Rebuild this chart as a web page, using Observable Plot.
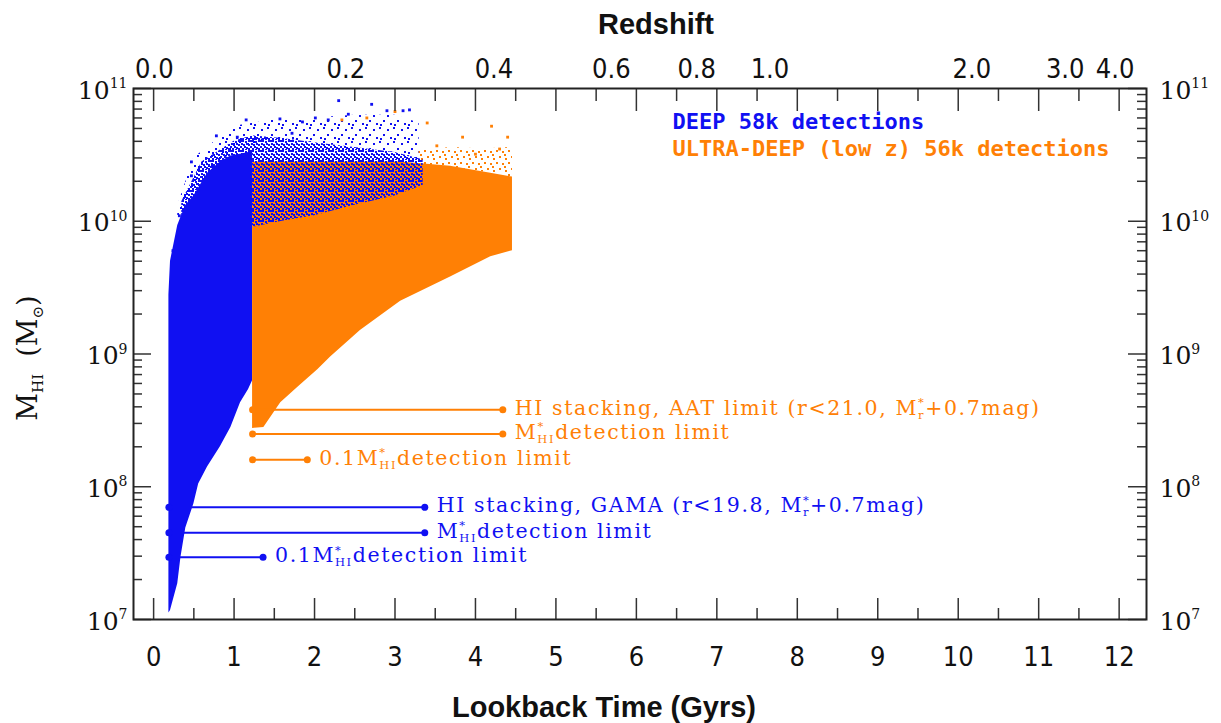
<!DOCTYPE html>
<html><head><meta charset="utf-8">
<script src="https://cdn.jsdelivr.net/npm/d3@7"></script>
<script src="https://cdn.jsdelivr.net/npm/@observablehq/plot@0.6"></script>
<style>body{margin:0;background:#fff;} #chart svg{display:block;}</style>
</head><body><div id="chart"></div>
<script>
// ---------------- data ----------------
// DEEP cloud (blue): envelope of the dense region, lookback time (Gyr) vs M_HI
const blueT    = [0.19, 0.21, 0.30, 0.34, 0.40, 0.50, 0.56, 0.67, 0.83, 0.96, 1.08, 1.18, 1.23];
const blueLow  = [1.12e7, 1.17e7, 1.86e7, 2.95e7, 4.9e7, 7.4e7, 1.05e8, 1.41e8, 2.0e8, 2.8e8, 4.3e8, 5.4e8, 6.3e8];
const blueHigh = [2.8e9, 5.0e9, 9.3e9, 1.07e10, 1.32e10, 1.55e10, 1.78e10, 2.3e10, 2.8e10, 3.1e10, 3.2e10, 3.3e10, 3.4e10];
// DEEP sparse band (blue points scattered over the orange cloud)
const blueMixT    = [0.35, 0.6, 1.0, 1.23, 1.6, 2.0, 2.5, 3.0, 3.35];
const blueMixLow  = [1.0e10, 1.6e10, 2.0e10, 9.0e9, 1.0e10, 1.1e10, 1.32e10, 1.55e10, 1.86e10];
const blueMixHigh = [1.4e10, 2.8e10, 4.0e10, 4.4e10, 4.2e10, 3.9e10, 3.6e10, 3.3e10, 2.9e10];
// DEEP very sparse outskirts
const blueHaloT    = [0.3, 0.5, 1.0, 1.5, 2.0, 2.5, 3.0, 3.3];
const blueHaloLow  = [1.0e10, 1.6e10, 3.5e10, 4.2e10, 3.9e10, 3.6e10, 3.3e10, 2.9e10];
const blueHaloHigh = [1.3e10, 3.0e10, 5.2e10, 5.8e10, 6.0e10, 6.3e10, 6.3e10, 5.5e10];
// ULTRA-DEEP cloud (orange)
const orangeT    = [1.23, 1.37, 1.58, 1.79, 2.04, 2.20, 2.57, 3.07, 3.69, 4.19, 4.46];
const orangeLow  = [2.75e8, 2.8e8, 4.3e8, 5.6e8, 7.6e8, 9.5e8, 1.5e9, 2.5e9, 3.8e9, 5.4e9, 6.0e9];
const orangeHigh = [2.8e10, 2.8e10, 2.8e10, 2.8e10, 2.8e10, 2.8e10, 2.8e10, 2.8e10, 2.6e10, 2.3e10, 2.15e10];
// ULTRA-DEEP sparse outskirts
const orangeHaloT    = [3.3, 3.7, 4.1, 4.46];
const orangeHaloLow  = [2.7e10, 2.55e10, 2.35e10, 2.15e10];
const orangeHaloHigh = [3.4e10, 3.6e10, 3.5e10, 3.6e10];
// isolated points
const blueOutT = [2.30, 2.71, 2.90, 3.10, 3.18, 1.15, 1.57, 2.01, 1.85, 2.17, 2.42, 0.78, 1.04, 1.35, 1.72, 0.47, 0.73, 0.47, 0.68, 0.32, 0.24];
const blueOutM = [8.1e10, 7.6e10, 6.8e10, 6.8e10, 6.9e10, 5.8e10, 5.9e10, 6.0e10, 5.6e10, 5.8e10, 6.4e10, 4.4e10, 4.3e10, 4.1e10, 4.6e10, 2.8e10, 2.6e10, 2.2e10, 2.2e10, 1.1e10, 6.0e9];
const orangeOutT = [2.34, 2.65, 3.00, 3.40, 4.20, 4.40, 3.52, 3.84, 4.0, 4.3];
const orangeOutM = [5.8e10, 6.0e10, 6.7e10, 5.5e10, 5.2e10, 4.3e10, 3.7e10, 4.3e10, 3.2e10, 3.5e10];
// detection-limit lines
const orangeLimM  = [3.8e8, 2.5e8, 1.6e8];
const orangeLimT0 = [1.23, 1.23, 1.23];
const orangeLimT1 = [4.34, 4.34, 1.91];
const orangeLimText = ["HI stacking, AAT limit (r<21.0, M^{*}_{r}+0.7mag)", "M^{*}_{HI}detection limit", "0.1M^{*}_{HI}detection limit"];
const blueLimM  = [7.0e7, 4.5e7, 2.95e7];
const blueLimT0 = [0.19, 0.19, 0.19];
const blueLimT1 = [3.37, 3.37, 1.36];
const blueLimText = ["HI stacking, GAMA (r<19.8, M^{*}_{r}+0.7mag)", "M^{*}_{HI}detection limit", "0.1M^{*}_{HI}detection limit"];
// axes
const xMajor = [0,1,2,3,4,5,6,7,8,9,10,11,12];
const xMinor = [0.5,1.5,2.5,3.5,4.5,5.5,6.5,7.5,8.5,9.5,10.5,11.5];
const yMajor = [1e7, 1e8, 1e9, 1e10, 1e11];
const yMinor = [1e7,1e8,1e9,1e10].flatMap(d => [2,3,4,5,6,7,8,9].map(k => k*d));
const zLabels = ["0.0","0.2","0.4","0.6","0.8","1.0","2.0","3.0","4.0"];
const zLookback = [0.01, 2.39, 4.23, 5.69, 6.75, 7.66, 10.17, 11.33, 11.95];
const legendText = ["DEEP 58k detections", "ULTRA-DEEP (low z) 56k detections"];

// ---------------- style ----------------
const BLUE = "#1010f2", ORANGE = "#ff8005", AX = "#333";
const SERIF = "'DejaVu Serif', serif";
const NARROW = "'Liberation Sans Narrow', 'Arial Narrow', 'DejaVu Sans Condensed', sans-serif";
const SANS = "'Liberation Sans', Arial, sans-serif";
const MONO = "'DejaVu Sans Mono', monospace";
const W = 1221, H = 723, ML = 133, MR = 75, MT = 88, MB = 104;
const PW = W - ML - MR, PH = H - MT - MB;

const zip = (t, lo, hi) => t.map((d, i) => ({t: d, lo: lo[i], hi: hi[i]}));
const pts = (t, m) => t.map((d, i) => ({t: d, m: m[i]}));
const lims = (m, t0, t1, txt) => m.map((d, i) => ({m: d, t0: t0[i], t1: t1[i], text: txt[i]}));

const pattern = (defs, id, color, size, cells) => {
  const p = defs.append("pattern").attr("id", id).attr("width", size).attr("height", size).attr("patternUnits", "userSpaceOnUse");
  cells.forEach(([x, y]) => p.append("rect").attr("x", x).attr("y", y).attr("width", 2).attr("height", 2).attr("fill", color));
};
const defs = () => {
  const d = d3.create("svg:defs");
  pattern(d, "blueMix", BLUE, 10, [[0,0],[2,0],[5,1],[8,0],[1,3],[3,4],[6,3],[8,4],[0,6],[4,6],[6,7],[2,8],[8,8],[5,9]]);
  pattern(d, "blueHalo", BLUE, 14, [[1,1],[9,3],[5,8],[12,11],[2,12]]);
  pattern(d, "orangeHalo", ORANGE, 12, [[1,2],[7,0],[4,6],[10,7],[0,10]]);
  return d.node();
};

const limitMarks = (data, color) => [
  Plot.ruleY(data, {y: "m", x1: "t0", x2: "t1", stroke: color, strokeWidth: 2}),
  Plot.dot(data, {x: "t0", y: "m", r: 3.5, fill: color}),
  Plot.dot(data, {x: "t1", y: "m", r: 3.5, fill: color}),
  Plot.text(data, {x: "t1", y: "m", text: "text", textAnchor: "start", lineAnchor: "bottom", dx: 12, dy: 5,
    fill: color, fontFamily: SERIF, fontSize: 20.5})
];

const chart = Plot.plot({
  width: W, height: H, marginLeft: ML, marginRight: MR, marginTop: MT, marginBottom: MB,
  x: {domain: [-0.25, 12.34], axis: null},
  y: {type: "log", domain: [1e7, 1e11], axis: null},
  style: {background: "#fff", overflow: "visible"},
  marks: [
    defs,
    Plot.areaY(zip(blueHaloT, blueHaloLow, blueHaloHigh), {x: "t", y1: "lo", y2: "hi", fill: "url(#blueHalo)"}),
    Plot.areaY(zip(orangeHaloT, orangeHaloLow, orangeHaloHigh), {x: "t", y1: "lo", y2: "hi", fill: "url(#orangeHalo)"}),
    Plot.areaY(zip(blueT, blueLow, blueHigh), {x: "t", y1: "lo", y2: "hi", fill: BLUE}),
    Plot.areaY(zip(orangeT, orangeLow, orangeHigh), {x: "t", y1: "lo", y2: "hi", fill: ORANGE}),
    Plot.areaY(zip(blueMixT, blueMixLow, blueMixHigh), {x: "t", y1: "lo", y2: "hi", fill: "url(#blueMix)"}),
    Plot.dot(pts(blueOutT, blueOutM), {x: "t", y: "m", r: 1.6, symbol: "square", fill: BLUE}),
    Plot.dot(pts(orangeOutT, orangeOutM), {x: "t", y: "m", r: 1.6, symbol: "square", fill: ORANGE}),
    ...limitMarks(lims(orangeLimM, orangeLimT0, orangeLimT1, orangeLimText), ORANGE),
    ...limitMarks(lims(blueLimM, blueLimT0, blueLimT1, blueLimText), BLUE),
    // ticks (inward)
    Plot.ruleX(xMajor, {x: d => d, insetTop: PH - 21, stroke: AX, strokeWidth: 1.5}),
    Plot.ruleX(xMinor, {x: d => d, insetTop: PH - 11, stroke: AX, strokeWidth: 1.5}),
    Plot.ruleX(xMajor, {x: d => d, insetBottom: PH - 23, stroke: AX, strokeWidth: 1.5}),
    Plot.ruleX(xMinor, {x: d => d, insetBottom: PH - 13, stroke: AX, strokeWidth: 1.5}),
    Plot.ruleY(yMajor, {y: d => d, insetRight: PW - 18, stroke: AX, strokeWidth: 1.5}),
    Plot.ruleY(yMinor, {y: d => d, insetRight: PW - 9, stroke: AX, strokeWidth: 1.5}),
    Plot.ruleY(yMajor, {y: d => d, insetLeft: PW - 18, stroke: AX, strokeWidth: 1.5}),
    Plot.ruleY(yMinor, {y: d => d, insetLeft: PW - 9, stroke: AX, strokeWidth: 1.5}),
    Plot.frame({stroke: "#222", strokeWidth: 2}),
    // tick labels
    Plot.text(xMajor, {x: d => d, text: d => String(d), frameAnchor: "bottom", lineAnchor: "bottom", dy: 46,
      fontFamily: NARROW, fontSize: 27, fill: "#111"}),
    Plot.text(zLabels, {x: (d, i) => zLookback[i], text: d => d, frameAnchor: "top", lineAnchor: "bottom", dy: -11,
      fontFamily: NARROW, fontSize: 27, fill: "#111"}),
    Plot.text(yMajor, {y: d => d, text: d => "10^{" + Math.round(Math.log10(d)) + "}", frameAnchor: "left",
      textAnchor: "end", lineAnchor: "middle", dx: -6, dy: 2, fontFamily: SERIF, fontSize: 25, fill: "#111"}),
    Plot.text(yMajor, {y: d => d, text: d => "10^{" + Math.round(Math.log10(d)) + "}", frameAnchor: "right",
      textAnchor: "start", lineAnchor: "middle", dx: 13, dy: 2, fontFamily: SERIF, fontSize: 25, fill: "#111"}),
    // axis titles
    Plot.text(["Redshift"], {frameAnchor: "top", lineAnchor: "bottom", dx: 16, dy: -55,
      fontFamily: SANS, fontWeight: "bold", fontSize: 29, fill: "#111"}),
    Plot.text(["Lookback Time (Gyrs)"], {frameAnchor: "bottom", lineAnchor: "bottom", dx: -36, dy: 97,
      fontFamily: SANS, fontWeight: "bold", fontSize: 29, fill: "#111"}),
    Plot.text(["M_{HI}  (M_{⊙})"], {frameAnchor: "left", rotate: -90, textAnchor: "middle", lineAnchor: "middle", dx: -105, dy: 4,
      fontFamily: SERIF, fontSize: 27, fill: "#111"}),
    // legend
    Plot.text([legendText[0]], {frameAnchor: "top-left", textAnchor: "start", lineAnchor: "bottom", dx: 539, dy: 40,
      fontFamily: MONO, fontWeight: "bold", fontSize: 22, fill: BLUE}),
    Plot.text([legendText[1]], {frameAnchor: "top-left", textAnchor: "start", lineAnchor: "bottom", dx: 539, dy: 67,
      fontFamily: MONO, fontWeight: "bold", fontSize: 22, fill: ORANGE})
  ]
});
document.getElementById("chart").appendChild(chart);

// render ^{..} and _{..} markup as real super/subscript tspans
(function richify(svg) {
  const NS = "http://www.w3.org/2000/svg";
  svg.querySelectorAll("text").forEach(el => {
    const s = el.textContent;
    if (/limit|stacking/.test(s)) el.style.letterSpacing = "1.6px";
    if (!/[\^_]\{/.test(s)) return;
    const fs = parseFloat(getComputedStyle(el).fontSize);
    el.textContent = "";
    const parts = s.split(/(\^\{[^}]*\}|_\{[^}]*\})/).filter(p => p !== "");
    let off = 0, prevSup = null;
    for (const p of parts) {
      const ts = document.createElementNS(NS, "tspan");
      let txt = p, tgt = 0, small = false;
      if (p.startsWith("^{")) { txt = p.slice(2, -1); tgt = -0.42 * fs; small = true; }
      else if (p.startsWith("_{")) { txt = p.slice(2, -1); tgt = 0.2 * fs; small = true; }
      ts.textContent = txt;
      if (small) ts.setAttribute("font-size", (0.56 * fs).toFixed(1));
      ts.setAttribute("dy", (tgt - off).toFixed(1));
      off = tgt;
      el.appendChild(ts);
      if (p.startsWith("_{") && prevSup) ts.setAttribute("dx", (-prevSup.getComputedTextLength()).toFixed(1));
      prevSup = p.startsWith("^{") ? ts : null;
    }
  });
})(chart);
</script>
</body></html>
